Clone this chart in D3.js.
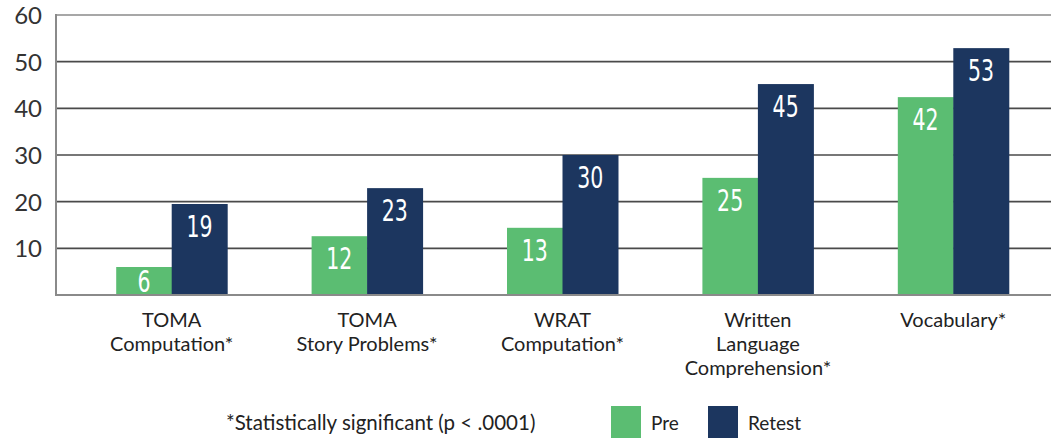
<!DOCTYPE html>
<html><head><meta charset="utf-8">
<script src="https://cdn.jsdelivr.net/npm/d3@7"></script>
<style>body{margin:0;background:#fff}svg{display:block}</style>
</head><body>
<script>
const categories = [["TOMA","Computation*"],["TOMA","Story Problems*"],["WRAT","Computation*"],["Written","Language","Comprehension*"],["Vocabulary*"]];
const preValues = [6, 12.6, 14.4, 25.1, 42.4];
const retestValues = [19.5, 22.9, 30, 45.2, 52.9];
const preLabels = ["6","12","13","25","42"];
const retestLabels = ["19","23","30","45","53"];
const yTicks = [10,20,30,40,50,60];
const seriesNames = ["Pre","Retest"];
const footnote = "*Statistically significant (p < .0001)";

const W=1051,H=439;
const colors={Pre:"#5bbd72",Retest:"#1c365f"};
const svg=d3.select("body").append("svg").attr("width",W).attr("height",H);
const x0=d3.scaleBand().domain(d3.range(categories.length)).range([74,1051]).paddingInner(0.432).paddingOuter(0.216);
const x1=d3.scaleBand().domain(seriesNames).range([0,x0.bandwidth()]);
const y=d3.scaleLinear().domain([0,60]).range([295,15]);
const left=56;

svg.append("g").selectAll("line").data(yTicks).join("line")
 .attr("x1",left).attr("x2",W).attr("y1",d=>y(d)).attr("y2",d=>y(d))
 .attr("stroke",d=>d===60?"#8a8a8a":"#4a4a4a").attr("stroke-width",1.6);
const yAxis=d3.axisLeft(y).tickValues(yTicks).tickSize(0).tickPadding(14);
const ga=svg.append("g").attr("transform",`translate(${left},0)`).call(yAxis);
ga.select(".domain").remove();
ga.selectAll("text").attr("font-family","Lato, sans-serif").attr("font-size",24).attr("fill","#333").attr("dy","0.36em");

const data=categories.map((c,i)=>({i,vals:[{k:"Pre",v:preValues[i],l:preLabels[i]},{k:"Retest",v:retestValues[i],l:retestLabels[i]}]}));
const g=svg.append("g").selectAll("g").data(data).join("g").attr("transform",d=>`translate(${x0(d.i)},0)`);
g.selectAll("rect").data(d=>d.vals).join("rect")
 .attr("x",d=>x1(d.k)).attr("width",x1.bandwidth()+0.5).attr("y",d=>y(d.v)).attr("height",d=>y(0)-y(d.v))
 .attr("fill",d=>colors[d.k]);
g.selectAll("text").data(d=>d.vals).join("text")
 .attr("transform",d=>`translate(${x1(d.k)+x1.bandwidth()/2},${Math.min(y(d.v)+33,292)}) scale(0.76,1)`)
 .attr("text-anchor","middle").attr("fill","#fff").attr("font-family","'Liberation Sans Narrow','DejaVu Sans Condensed',sans-serif")
 .attr("font-size",30).text(d=>d.l);

svg.append("line").attr("x1",left).attr("x2",W).attr("y1",y(0)).attr("y2",y(0)).attr("stroke","#8a8a8a").attr("stroke-width",2);
svg.append("line").attr("x1",left).attr("x2",left).attr("y1",y(60)-1).attr("y2",y(0)+1).attr("stroke","#8a8a8a").attr("stroke-width",2);

svg.append("g").selectAll("text").data(categories.map((c,i)=>({c,i}))).join("text")
 .attr("x",d=>x0(d.i)+x0.bandwidth()/2).attr("y",327).attr("text-anchor","middle")
 .attr("font-family","Lato, sans-serif").attr("font-size",20).attr("fill","#222")
 .selectAll("tspan").data(d=>d.c.map(t=>({t,x:x0(d.i)+x0.bandwidth()/2}))).join("tspan")
 .attr("x",d=>d.x).attr("dy",(d,j)=>j?24:0).text(d=>d.t);

svg.append("text").attr("x",226).attr("y",430).attr("font-family","Lato, sans-serif").attr("font-size",20.5).attr("fill","#222").text(footnote);
const lx=[611,708];
const lg=svg.append("g").selectAll("g").data(seriesNames).join("g").attr("transform",(d,i)=>`translate(${lx[i]},406)`);
lg.append("rect").attr("width",30).attr("height",32).attr("fill",d=>colors[d]);
lg.append("text").attr("x",40).attr("y",24).attr("font-family","Lato, sans-serif").attr("font-size",19).attr("fill","#222").text(d=>d);
</script>
</body></html>
